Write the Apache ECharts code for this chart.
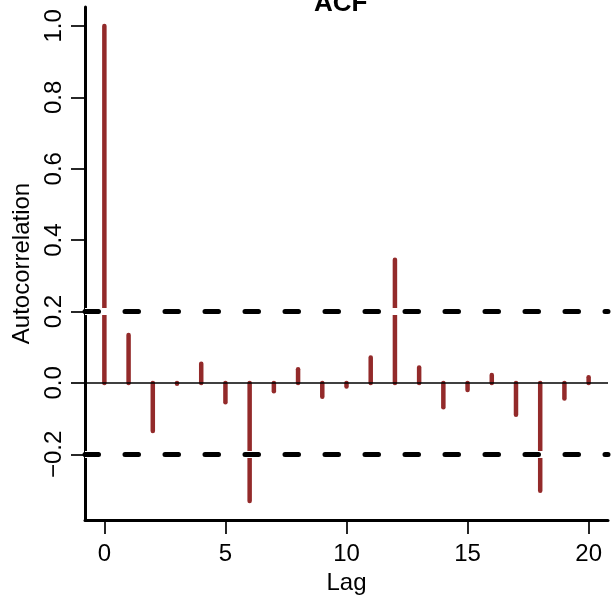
<!DOCTYPE html>
<html style="height:100%">
   <head>
       <meta charset="utf-8">
   </head>
   <body style="height:100%; margin: 0">
       <div id="container" style="width: 611px; height: 605px"></div>
       <script src="https://cdn.jsdelivr.net/npm/echarts@6/dist/echarts.min.js"></script>
       <script type="text/javascript">
        // lags and sample autocorrelations
        var lags = [0, 1, 2, 3, 4, 5, 6, 7, 8, 9, 10, 11, 12, 13, 14, 15, 16, 17, 18, 19, 20];
        var acfValues = [1.0, 0.134, -0.135, -0.002, 0.054, -0.054, -0.331, -0.023, 0.038, -0.039,
                         -0.010, 0.071, 0.345, 0.043, -0.068, -0.020, 0.022, -0.089, -0.302, -0.044, 0.016];
        var ciBound = 0.196;
        var xTicks = [0, 5, 10, 15, 20];
        var yTicks = [-0.2, 0.0, 0.2, 0.4, 0.6, 0.8, 1.0];

        var barColor = '#932a2a';
        var font = 'Liberation Sans, Arial, Helvetica, sans-serif';

        var pts = [];
        for (var i = 0; i < lags.length; i++) {
            pts.push([lags[i], acfValues[i]]);
        }

        var dom = document.getElementById("container");
        var myChart = echarts.init(dom);
        var option = {
            animation: false,
            backgroundColor: '#fff',
            title: {
                text: 'ACF',
                left: 314,
                top: -9,
                padding: 0,
                textStyle: { fontSize: 26, fontWeight: 'bold', color: '#000', fontFamily: font }
            },
            grid: { left: 85, right: 3, top: 7, bottom: 85 },
            xAxis: {
                type: 'value',
                min: -0.8,
                max: 20.8,
                name: 'Lag',
                nameLocation: 'middle',
                nameGap: 51,
                nameTextStyle: { fontSize: 24, color: '#000', fontFamily: font },
                splitLine: { show: false },
                axisLine: { onZero: false, lineStyle: { color: '#000', width: 3 } },
                axisTick: { customValues: xTicks, length: 14, lineStyle: { color: '#000', width: 1.7 } },
                axisLabel: { customValues: xTicks, margin: 22, fontSize: 24, color: '#000', fontFamily: font }
            },
            yAxis: {
                type: 'value',
                min: -0.384,
                max: 1.053,
                name: 'Autocorrelation',
                nameLocation: 'middle',
                nameRotate: 90,
                nameGap: 49,
                nameTextStyle: { fontSize: 24, color: '#000', fontFamily: font },
                splitLine: { show: false },
                axisLine: { onZero: false, lineStyle: { color: '#000', width: 3 } },
                axisTick: { customValues: yTicks, length: 14, lineStyle: { color: '#000', width: 1.7 } },
                axisLabel: {
                    customValues: yTicks, margin: 19, rotate: 90, fontSize: 24, color: '#000', fontFamily: font,
                    formatter: function (v) { return v.toFixed(1).replace('-', '\u2212'); }
                }
            },
            series: [
                {
                    type: 'custom',
                    z: 2,
                    data: pts,
                    renderItem: function (params, api) {
                        var p0 = api.coord([api.value(0), 0]);
                        var p1 = api.coord([api.value(0), api.value(1)]);
                        return {
                            type: 'line',
                            shape: { x1: p0[0], y1: p0[1], x2: p1[0], y2: p1[1] },
                            style: { stroke: barColor, lineWidth: 4.5, lineCap: 'round' }
                        };
                    }
                },
                {
                    // white underlay of the confidence lines
                    type: 'line',
                    z: 3,
                    data: [],
                    markLine: {
                        silent: true,
                        symbol: 'none',
                        label: { show: false },
                        lineStyle: { color: '#fff', width: 7, type: 'solid' },
                        data: [{ yAxis: ciBound }, { yAxis: -ciBound }]
                    }
                },
                {
                    type: 'line',
                    z: 4,
                    data: [],
                    markLine: {
                        silent: true,
                        symbol: 'none',
                        label: { show: false },
                        lineStyle: { color: '#000', width: 5, type: [13.5, 26.5], cap: 'round' },
                        data: [{ yAxis: ciBound }, { yAxis: -ciBound }]
                    }
                },
                {
                    type: 'line',
                    z: 5,
                    data: [],
                    markLine: {
                        silent: true,
                        symbol: 'none',
                        label: { show: false },
                        lineStyle: { color: '#000', width: 1.5, type: 'solid' },
                        data: [{ yAxis: 0 }]
                    }
                }
            ]
        };
        myChart.setOption(option);
       </script>
   </body>
</html>
